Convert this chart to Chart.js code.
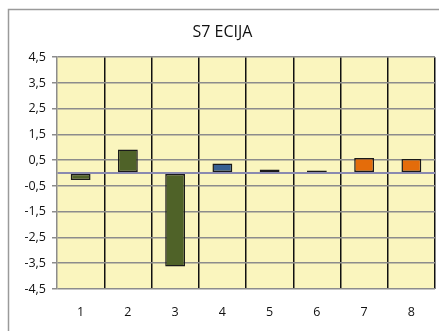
<!DOCTYPE html>
<html>
<head>
<meta charset="utf-8">
<script src="https://cdn.jsdelivr.net/npm/chart.js@4/dist/chart.umd.min.js"></script>
<style>
  html, body { margin: 0; padding: 0; background: #fff; }
  #wrap { width: 439px; height: 331px; }
</style>
</head>
<body>
<div id="wrap"><canvas id="graf" width="439" height="331"></canvas></div>
<script>
const titulo = 'S7 ECIJA'
const categorias = ['1', '2', '3', '4', '5', '6', '7', '8']
const valores = [-0.27, 0.92, -3.63, 0.37, 0.14, 0.1, 0.59, 0.55]
const yTicks = [-4.5, -3.5, -2.5, -1.5, -0.5, 0.5, 1.5, 2.5, 3.5, 4.5]

// cores das barras
const verde = '#4F6228'
const azul = '#376092'
const marrom = '#8B4A22'
const laranja = '#E46C0A'
const coresBarras = [verde, verde, verde, azul, azul, marrom, laranja, laranja]

let ctx = document.getElementById('graf').getContext('2d')

// fundo da área do gráfico e moldura externa (só topo e esquerda aparecem)
const fundo = {
    id: 'fundo',
    beforeDraw(chart) {
        const c = chart.ctx
        const a = chart.chartArea
        c.save()
        c.fillStyle = '#FAF5BE'
        c.fillRect(a.left, a.top, a.right - a.left, a.bottom - a.top)
        c.strokeStyle = '#9a9a9a'
        c.lineWidth = 1.5
        c.beginPath()
        c.moveTo(8.5, 340)
        c.lineTo(8.5, 9.5)
        c.lineTo(450, 9.5)
        c.stroke()
        c.restore()
    }
}

const fonte = { family: 'Open Sans', size: 12.5 }

const config = {
    type: 'bar',
    data: {
        labels: categorias,
        datasets: [{
            data: valores,
            backgroundColor: coresBarras,
            borderColor: '#1a1a1a',
            borderWidth: 1.5,
            borderSkipped: false,
            categoryPercentage: 1,
            barPercentage: 0.42
        }]
    },
    options: {
        responsive: false,
        animation: false,
        layout: { padding: { left: 10, right: 4, top: 0, bottom: 0 } },
        plugins: {
            legend: { display: false },
            tooltip: { enabled: false },
            title: {
                display: true,
                text: titulo,
                color: '#111',
                font: { family: 'Open Sans', size: 16, weight: 'normal' },
                padding: { top: 23, bottom: 15 }
            }
        },
        scales: {
            x: {
                afterFit(s) { s.height = 42 },
                grid: {
                    offset: true,
                    color: c => c.index === 0 ? 'rgba(0,0,0,0)' : '#111',
                    lineWidth: 1.5,
                    drawTicks: false
                },
                border: { display: false },
                ticks: {
                    color: '#111',
                    padding: 16,
                    font: fonte
                }
            },
            y: {
                min: -4.5,
                max: 4.5,
                afterFit(s) { s.width = 47 },
                afterBuildTicks(scale) {
                    scale.ticks = yTicks.concat([0]).map(v => ({ value: v }))
                },
                grid: {
                    color: c => c.tick && c.tick.value === 0 ? '#8a8ab0' : '#8c8c8c',
                    tickColor: c => c.tick && c.tick.value === 0 ? 'rgba(0,0,0,0)' : '#8c8c8c',
                    lineWidth: c => c.tick && c.tick.value === 0 ? 2 : 1.5,
                    tickLength: 5
                },
                border: { color: '#8c8c8c', width: 1.5 },
                ticks: {
                    color: '#111',
                    padding: 6,
                    font: fonte,
                    callback: v => v === 0 ? '' : String(v).replace('.', ',')
                }
            }
        }
    },
    plugins: [fundo]
}

const grafico = new Chart(ctx, config)
</script>
</body>
</html>
